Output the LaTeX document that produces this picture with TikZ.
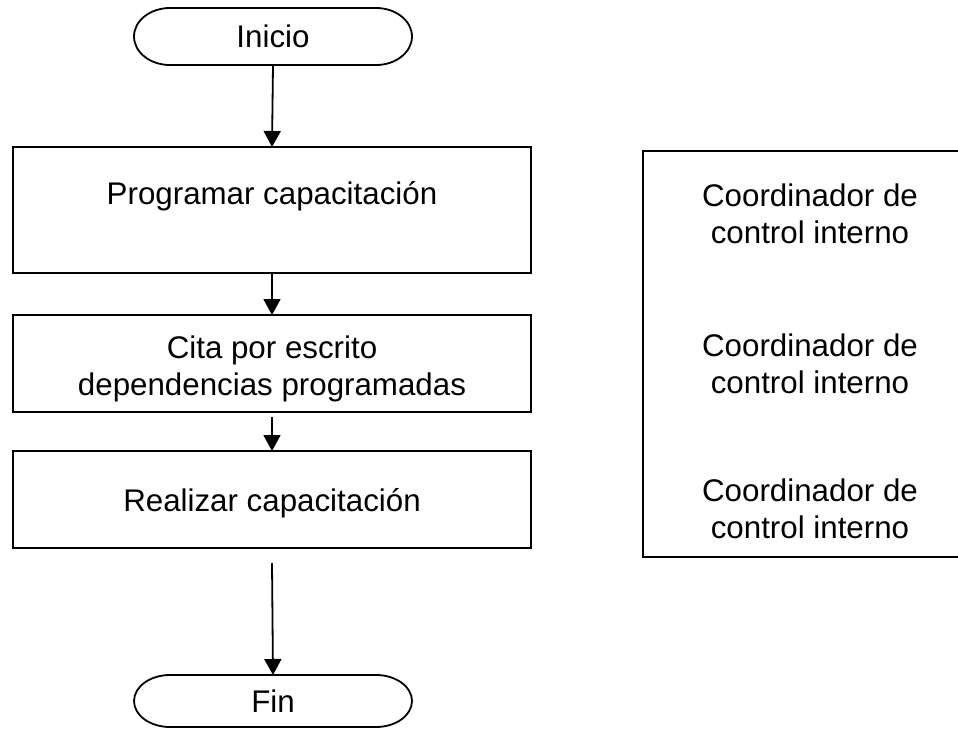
\documentclass[tikz,border=0pt]{standalone}
\usepackage{fontspec}
\setmainfont{Liberation Sans}
\usetikzlibrary{arrows.meta}
\begin{document}
\begin{tikzpicture}[x=1pt,y=-1pt,
  box/.style={draw=black,line width=1.8pt,inner sep=0pt,outer sep=0pt},
  term/.style={draw=none,inner sep=0pt,outer sep=0pt,minimum width=278pt,minimum height=57pt},
  termline/.style={draw=black,line width=1.8pt},
  lbl/.style={font=\fontsize{31.3}{37}\selectfont,align=center,inner sep=0pt},
  conn/.style={draw=black,line width=1.8pt,-{Triangle[length=16pt,width=17pt]}}]
\useasboundingbox (0,0) rectangle (958,728);
\clip (0,0) rectangle (958,728);
% terminals
\node[term] (ini) at (273,36.5) {};
\node[term,minimum height=52pt] (fin) at (273,701) {};
\draw[termline] ([xshift=36pt]ini.north west) -- ([xshift=-36pt]ini.north east)
  arc[start angle=90,end angle=-90,x radius=36pt,y radius=28.5pt]
  -- ([xshift=36pt]ini.south west)
  arc[start angle=270,end angle=90,x radius=36pt,y radius=28.5pt] -- cycle;
\draw[termline] ([xshift=36pt]fin.north west) -- ([xshift=-36pt]fin.north east)
  arc[start angle=90,end angle=-90,x radius=36pt,y radius=26pt]
  -- ([xshift=36pt]fin.south west)
  arc[start angle=270,end angle=90,x radius=36pt,y radius=26pt] -- cycle;
\node[lbl] (tini) at (273,36.5) {Inicio};
\node[lbl] (tfin) at (273,701) {Fin};
% process boxes
\node[box,minimum width=518pt,minimum height=126pt] (b1) at (272,210) {};
\node[box,minimum width=518pt,minimum height=97pt] (b2) at (272,363.5) {};
\node[box,minimum width=518pt,minimum height=97pt] (b3) at (272,499.5) {};
\node[lbl,anchor=base] (t1) at (272,204) {Programar capacitación};
\node[lbl] (t2) at (272,369) {Cita por escrito\\dependencias programadas};
\node[lbl,anchor=base] (t3) at (272,511) {Realizar capacitación};
% right box
\draw[line width=1.8pt] (975,151) -- (643,151) -- (643,557) -- (975,557);
\node[lbl] (r1) at (810,214) {Coordinador de\\control interno};
\node[lbl] (r2) at (810,364) {Coordinador de\\control interno};
\node[lbl] (r3) at (810,509) {Coordinador de\\control interno};
% connectors
\coordinate (s3) at ([yshift=-5pt]b2.south);
\coordinate (s4) at ([yshift=-15pt]b3.south);
\draw[conn] (ini.south) -- (b1.north);
\draw[conn] (b1.south) -- (b2.north);
\draw[conn] (s3) -- (b3.north);
\draw[conn] (s4) -- (fin.north);
\end{tikzpicture}
\end{document}
